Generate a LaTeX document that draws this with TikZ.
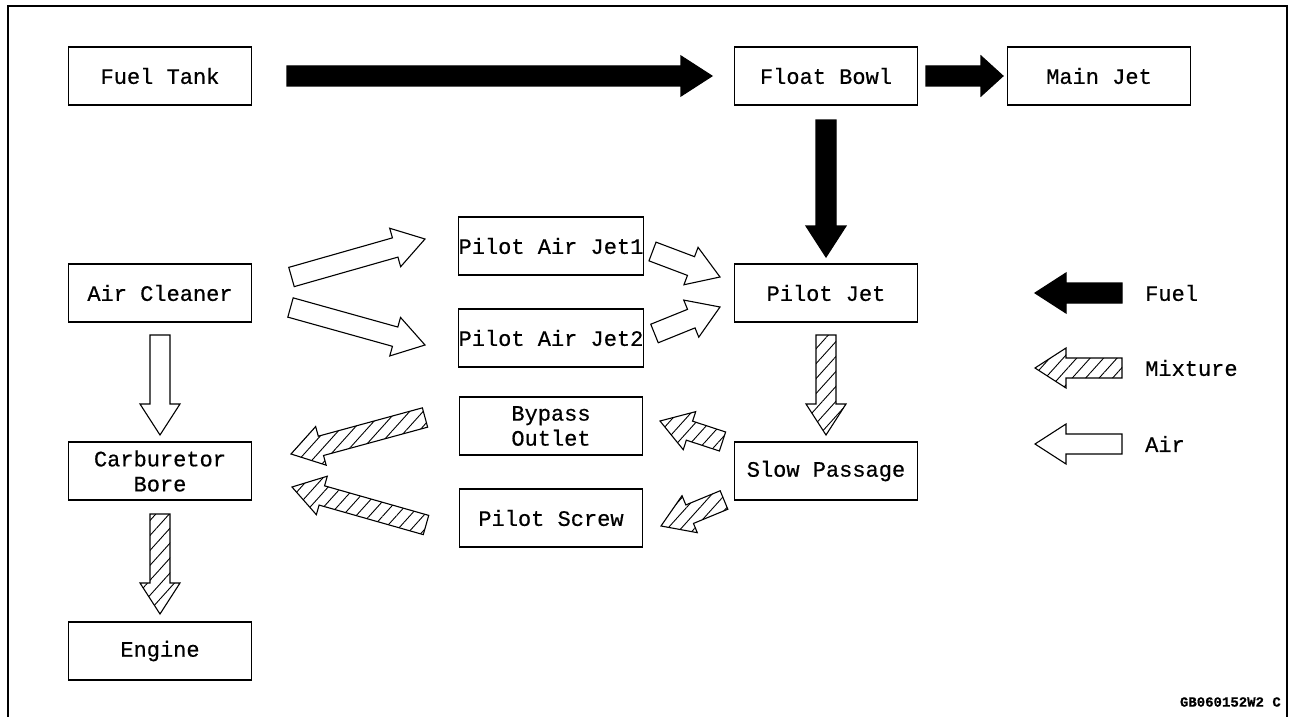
\documentclass[tikz,border=0pt]{standalone}
\usepackage{fontspec}
\setmonofont[FakeBold=0.5]{Liberation Mono}
\usetikzlibrary{calc,patterns.meta}
\newcommand\blockarrow[4][31]{%
  \coordinate (hb) at ($(#4)!#1pt!(#3)$);
  \draw[#2] ($(#3)!10pt!90:(#4)$) -- ($(hb)!10pt!90:(#4)$) -- ($(hb)!20pt!90:(#4)$) -- (#4)
    -- ($(hb)!20pt!-90:(#4)$) -- ($(hb)!10pt!-90:(#4)$) -- ($(#3)!10pt!-90:(#4)$) -- cycle;}
\tikzset{
  box/.style={draw, line width=1.3pt, minimum width=183pt, minimum height=58pt, inner sep=0pt,
    align=center, font=\ttfamily\fontsize{22}{25}\selectfont},
  fuel/.style={draw, line width=1.1pt, fill=black, line join=miter},
  air/.style={draw, line width=1.1pt, fill=white, line join=miter},
  mix/.style={draw, line width=1.1pt, line join=miter, pattern={Lines[angle=48,distance=10pt,line width=0.9pt]}},
  legtext/.style={anchor=west, inner sep=0pt, font=\ttfamily\fontsize{22}{25}\selectfont}
}
\begin{document}
\begin{tikzpicture}[x=1pt,y=-1pt]
\useasboundingbox (0,0) rectangle (1294,717);
% frame
\draw[line width=2.5pt] (8,717) -- (8,6) -- (1287,6) -- (1287,717);
% boxes
\node[box] (fueltank) at (160,76) {Fuel Tank};
\node[box] (floatbowl) at (826,76) {Float Bowl};
\node[box] (mainjet) at (1099,76) {Main Jet};
\node[box] (aircleaner) at (160,293) {Air Cleaner};
\node[box] (carb) at (160,471) {Carburetor\\Bore};
\node[box] (engine) at (160,651) {Engine};
\node[box] (paj1) at (551,246) {Pilot Air Jet1};
\node[box] (paj2) at (551,338) {Pilot Air Jet2};
\node[box] (bypass) at (551,426) {Bypass\\Outlet};
\node[box] (pscrew) at (551,518) {Pilot Screw};
\node[box] (pilotjet) at (826,293) {Pilot Jet};
\node[box] (slow) at (826,471) {Slow Passage};
% arrow end coordinates
\coordinate (a1s) at (287,76);   \coordinate (a1e) at (712,76);
\coordinate (a2s) at (926,76);   \coordinate (a2e) at (1003,76);
\coordinate (a3s) at (826,120);  \coordinate (a3e) at (826,257);
\coordinate (a4s) at (160,335);  \coordinate (a4e) at (160,435);
\coordinate (a5s) at (160,514);  \coordinate (a5e) at (160,614);
\coordinate (a6s) at (826,335);  \coordinate (a6e) at (826,435);
\coordinate (a7s) at (291.5,277); \coordinate (a7e) at (425,239);
\coordinate (a8s) at (290.5,307.5); \coordinate (a8e) at (425,345);
\coordinate (a9s) at (652.5,251.5); \coordinate (a9e) at (720,277);
\coordinate (a10s) at (654.5,333.5); \coordinate (a10e) at (720,307);
\coordinate (a11s) at (425,417.5); \coordinate (a11e) at (291,454);
\coordinate (a12s) at (426,525); \coordinate (a12e) at (292,487);
\coordinate (a13s) at (722.5,441.5); \coordinate (a13e) at (660,421);
\coordinate (a14s) at (724,500); \coordinate (a14e) at (661,526);
\coordinate (l1s) at (1122,293); \coordinate (l1e) at (1035,293);
\coordinate (l2s) at (1122,368); \coordinate (l2e) at (1035,368);
\coordinate (l3s) at (1122,444); \coordinate (l3e) at (1035,444);
% arrows
\blockarrow{fuel}{a1s}{a1e}
\blockarrow[22]{fuel}{a2s}{a2e}
\blockarrow{fuel}{a3s}{a3e}
\blockarrow{air}{a4s}{a4e}
\blockarrow{mix}{a5s}{a5e}
\blockarrow{mix}{a6s}{a6e}
\blockarrow{air}{a7s}{a7e}
\blockarrow{air}{a8s}{a8e}
\blockarrow{air}{a9s}{a9e}
\blockarrow{air}{a10s}{a10e}
\blockarrow{mix}{a11s}{a11e}
\blockarrow{mix}{a12s}{a12e}
\blockarrow{mix}{a13s}{a13e}
\blockarrow{mix}{a14s}{a14e}
% legend
\blockarrow{fuel}{l1s}{l1e}
\blockarrow{mix}{l2s}{l2e}
\blockarrow{air}{l3s}{l3e}
\node[legtext] (lfuel) at (1145,293) {Fuel};
\node[legtext] (lmix) at (1145,368) {Mixture};
\node[legtext] (lair) at (1145,444) {Air};
\node[anchor=east, inner sep=0pt, font=\ttfamily\bfseries\fontsize{14}{16}\selectfont] (code) at (1281,702) {GB060152W2 C};
\end{tikzpicture}
\end{document}
